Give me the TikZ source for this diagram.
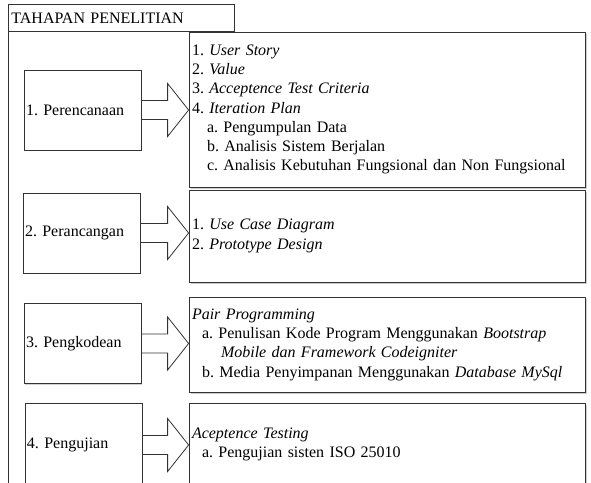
\documentclass[tikz,border=0pt]{standalone}
\usepackage{fontspec}
\setmainfont{Liberation Serif}
\usetikzlibrary{calc,shadows}
\frenchspacing
\begin{document}
\begin{tikzpicture}[x=1pt,y=-1pt,line width=0.8pt,
  font=\fontsize{16}{19.3}\selectfont\frenchspacing,
  frame/.style={draw=black!80},
  lbox/.style={draw=black!80, fill=white, text width=113pt, inner xsep=2pt, inner ysep=0pt,
    align=left, minimum height=80pt,
    drop shadow={shadow xshift=1pt, shadow yshift=-1pt, fill=black!35}},
  rbox/.style={draw=black!80, fill=white, text width=390pt, inner xsep=3pt, inner ysep=0pt,
    align=left,
    drop shadow={shadow xshift=2pt, shadow yshift=-2pt, fill=black!40}},
  blk/.style={draw=black!80, line join=miter}
]
\useasboundingbox (0,0) rectangle (591,482);

% title header and container edge
\node[frame, anchor=north west, text width=220pt, inner xsep=3pt, inner ysep=0pt,
      minimum height=27pt, align=left] (title) at (8,4) {TAHAPAN PENELITIAN};
\coordinate (bot) at (8,484);
\draw[frame] (title.south west) -- (bot);

% left boxes
\node[lbox] (l1) at (82.5,110) {1. Perencanaan};
\node[lbox] (l2) at (81.5,233) {2. Perancangan};
\node[lbox] (l3) at (82.5,343.5) {3. Pengkodean};
\node[lbox, minimum height=84pt] (l4) at (83.5,445) {4. Pengujian};

% right boxes
\node[rbox, minimum height=155pt] (r1) at (387,109.5) {%
1. \textit{User Story}\\
2. \textit{Value}\\
3. \textit{Acceptence Test Criteria}\\
4. \textit{Iteration Plan}\\
\hspace*{15pt}a. Pengumpulan Data\\
\hspace*{15pt}b. Analisis Sistem Berjalan\\
\hspace*{15pt}c. Analisis Kebutuhan Fungsional dan Non Fungsional};
\node[rbox, minimum height=92pt] (r2) at (387,236) {%
1. \textit{Use Case Diagram}\\
2. \textit{Prototype Design}};
\node[rbox, minimum height=95pt] (r3) at (387,344.5) {%
\textit{Pair Programming}\\
\hspace*{10pt}a. Penulisan Kode Program Menggunakan \textit{Bootstrap}\\
\hspace*{29pt}\textit{Mobile dan Framework Codeigniter}\\
\hspace*{10pt}b. Media Penyimpanan Menggunakan \textit{Database MySql}};
\node[rbox, minimum height=83pt] (r4) at (387,444.5) {%
\textit{Aceptence Testing}\\
\hspace*{10pt}a. Pengujian sisten ISO 25010};

% block arrows
\foreach \i in {1,...,4} {
  \path (l\i.east -| r\i.west) coordinate (t\i);
  \draw[blk] ($(l\i.east)+(0,-9.5)$) -| ($(t\i)+(-21,-26.5)$) -- (t\i)
     -- ($(t\i)+(-21,26.5)$) |- ($(l\i.east)+(0,9.5)$);
}
\end{tikzpicture}
\end{document}
